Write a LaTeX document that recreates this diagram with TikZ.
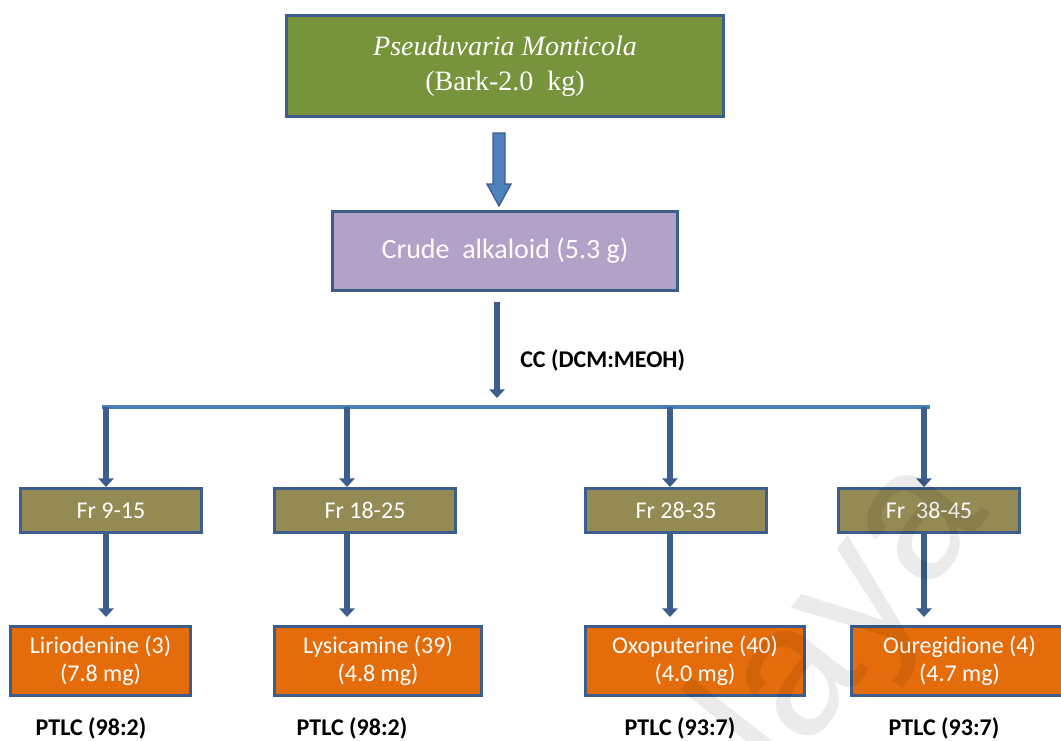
\documentclass[tikz,border=0pt]{standalone}
\usepackage{fontspec}
\setmainfont{Carlito}
\newfontfamily\serifface{Liberation Serif}
\newfontfamily\markface{Liberation Sans}
\usetikzlibrary{arrows.meta,calc}

\definecolor{bord}{HTML}{3B5E8C}
\definecolor{barblue}{HTML}{4A7EBB}
\definecolor{arrowfill}{HTML}{4F81BD}
\definecolor{plantgreen}{HTML}{77933C}
\definecolor{crudepurple}{HTML}{B3A2C7}
\definecolor{fracolive}{HTML}{948A54}
\definecolor{prodorange}{HTML}{E46C0A}

\tikzset{
  box/.style={draw=bord, line width=2.25pt, inner sep=0pt, align=center,
    text=white, font=\fontsize{18pt}{21pt}\selectfont},
  fracbox/.style={box, fill=fracolive, minimum width=135.75pt, minimum height=33pt},
  prodbox/.style={box, fill=prodorange, minimum height=51.75pt},
  arr/.style={draw=bord, line width=5pt, -{Triangle[width=11.5pt,length=6.5pt]}},
  barline/.style={draw=barblue, line width=3.6pt},
  note/.style={font=\bfseries\fontsize{18pt}{21pt}\selectfont, text=black, inner sep=0pt}
}

\begin{document}
\begin{tikzpicture}[x=0.75pt,y=-0.75pt]
\useasboundingbox (0,0) rectangle (1061,740);

% plant material and crude extract
\node[box, fill=plantgreen, minimum width=327.75pt, minimum height=75.75pt,
      font=\serifface\fontsize{21pt}{26pt}\selectfont] (plant) at (505,66)
  {\textit{Pseuduvaria Monticola}\\(Bark-2.0\ \ kg)};
\node[box, fill=crudepurple, minimum width=258.75pt, minimum height=59.25pt,
      font=\fontsize{21pt}{25pt}\selectfont] (crude) at (505,251)
  {Crude\ \ alkaloid (5.3 g)};

% fractions
\node[fracbox] (fr1) at (111,510.5) {Fr 9-15};
\node[fracbox] (fr2) at (365,510.5) {Fr 18-25};
\node[fracbox] (fr3) at (676,510.5) {Fr 28-35};
\node[fracbox] (fr4) at (929,510.5) {Fr\ \ 38-45};

% isolated alkaloids
\node[prodbox, minimum width=135pt]    (pr1) at (100.5,661) {Liriodenine (3)\\(7.8 mg)};
\node[prodbox, minimum width=155.25pt] (pr2) at (378,661)   {Lysicamine (39)\\(4.8 mg)};
\node[prodbox, minimum width=164.25pt] (pr3) at (695,661)   {Oxoputerine (40)\\(4.0 mg)};
\node[prodbox, minimum width=162pt]    (pr4) at (959.5,661) {Ouregidione (4)\\(4.7 mg)};

% block arrow from the bark to the crude alkaloid
\coordinate (ta) at ($(plant.south -| 499,0)+(0,15)$);
\coordinate (tb) at ($(crude.north -| 499,0)+(0,-4)$);
\filldraw[fill=arrowfill, draw=bord, line width=1pt]
  ($(ta)+(-6,0)$) -- ($(ta)+(6,0)$) -- ($(tb)+(6,-22)$) -- ($(tb)+(12,-22)$)
  -- (tb) -- ($(tb)+(-12,-22)$) -- ($(tb)+(-6,-22)$) -- cycle;

% column chromatography split
\coordinate (a0) at (497,407);
\coordinate (c1) at (106,407);
\coordinate (c2) at (347,407);
\coordinate (c3) at (670,407);
\coordinate (c4) at (924,407);
\coordinate (bend) at (930,407);

\draw[arr] ($(crude.south -| a0)+(0,10)$) -- ($(a0)+(0,-9)$);
\node[note, anchor=west] (cc) at (520,360) {CC (DCM:MEOH)};

\draw[barline] ($(c1)+(-4,0)$) -- (bend);

\foreach \i in {1,2,3,4}{
  \draw[arr] (c\i) -- (c\i |- fr\i.north);
  \draw[arr, shorten >=6pt] (c\i |- fr\i.south) -- (c\i |- pr\i.north);
}

% preparative TLC conditions
\node[note] (t1) at (91,728)  {PTLC (98:2)};
\node[note] (t2) at (352,728) {PTLC (98:2)};
\node[note] (t3) at (680,728) {PTLC (93:7)};
\node[note] (t4) at (944,728) {PTLC (93:7)};

% faint watermark
\node[font=\markface\fontsize{140pt}{140pt}\selectfont, text=black, text opacity=0.08,
      rotate=52, inner sep=0pt] (wm) at (815,660) {alaya};
\end{tikzpicture}
\end{document}
